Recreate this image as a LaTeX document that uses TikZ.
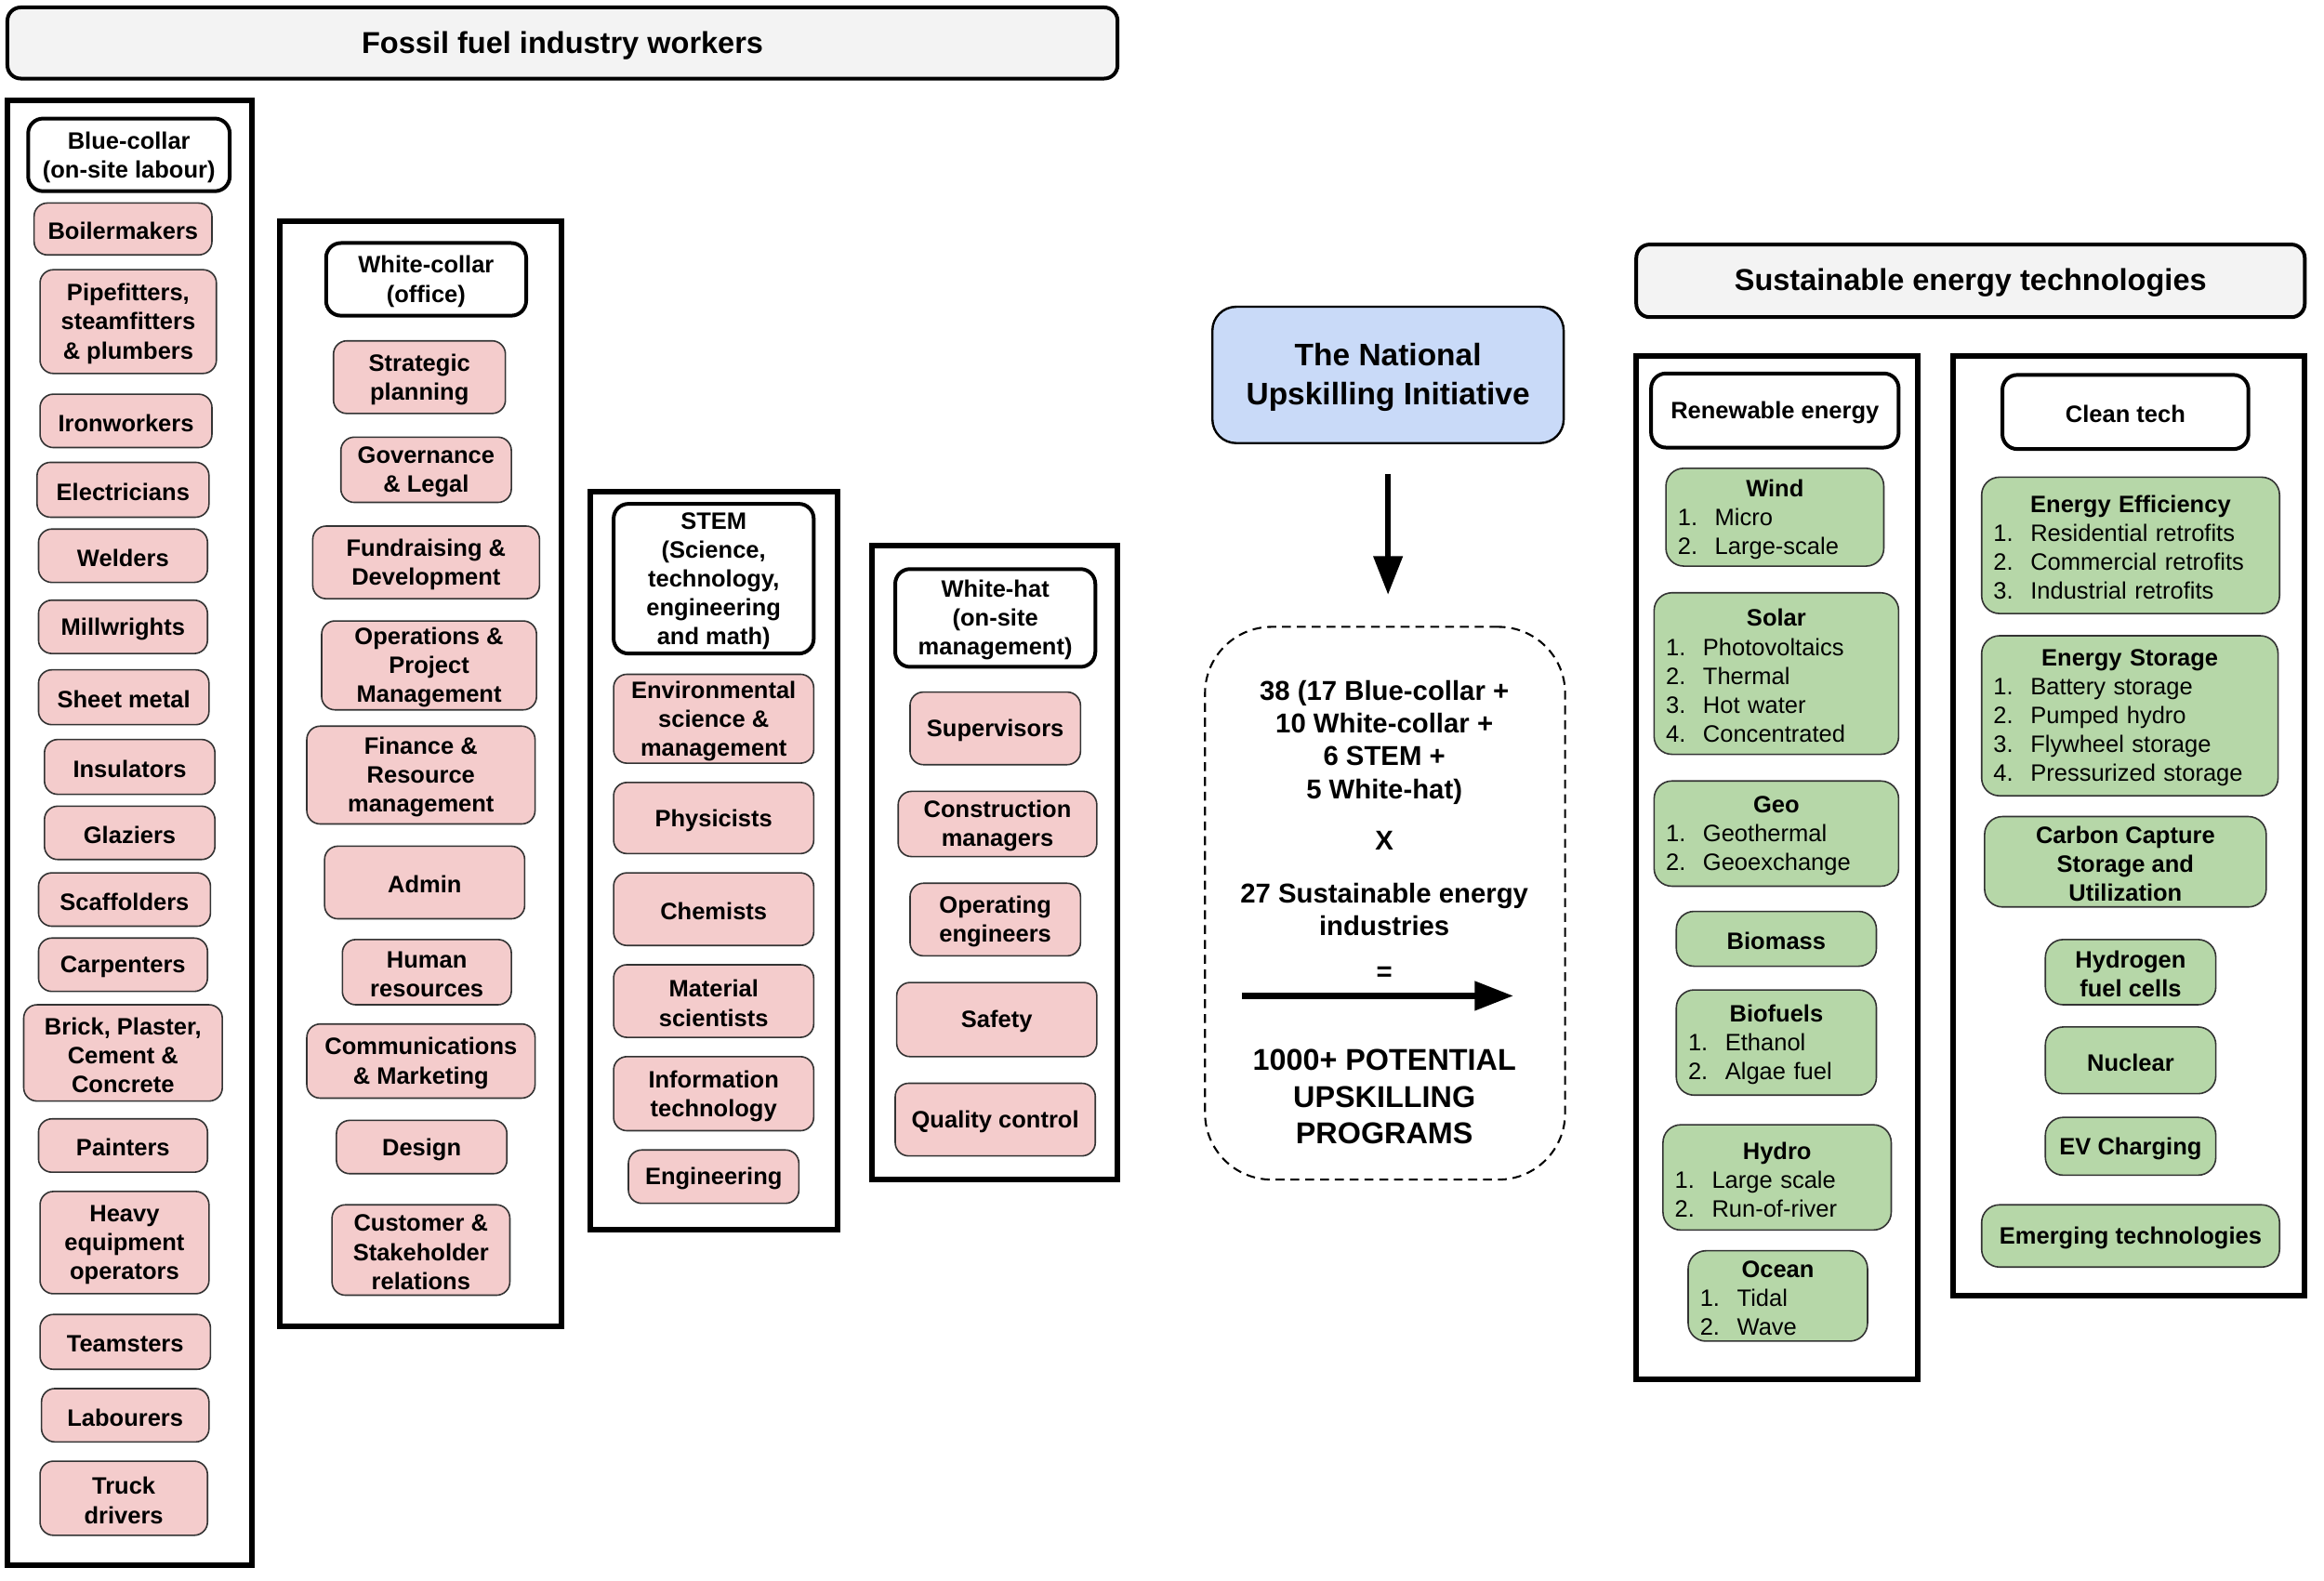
\documentclass[tikz,border=0pt]{standalone}
\usepackage{fontspec}
\setmainfont{Liberation Sans}
\usetikzlibrary{arrows.meta}
\definecolor{pinkf}{HTML}{F4CCCC}
\definecolor{greenf}{HTML}{B6D7A8}
\definecolor{bluef}{HTML}{C9DAF8}
\definecolor{grayf}{HTML}{F3F3F3}
\definecolor{edgec}{HTML}{333333}
\tikzset{
  base/.style={font=\fontsize{16}{19.5}\selectfont\bfseries, align=center, inner sep=0pt, text=black},
  pinkbox/.style={base, draw=edgec, line width=1pt, fill=pinkf, rounded corners=9pt},
  greenbox/.style={base, draw=edgec, line width=1pt, fill=greenf, rounded corners=12pt},
  greenlist/.style={greenbox, align=left, inner xsep=8pt},
  headbox/.style={base, draw=black, line width=2.5pt, fill=white, rounded corners=10pt},
  titlebox/.style={base, draw=black, line width=2.5pt, fill=grayf, rounded corners=9pt, font=\fontsize{20.4}{24}\selectfont\bfseries},
  initbox/.style={base, draw=black, line width=1.5pt, fill=bluef, rounded corners=16pt, font=\fontsize{21}{26}\selectfont\bfseries},
  dashbox/.style={draw=black, line width=1.3pt, dash pattern=on 6pt off 4pt, rounded corners=45pt},
  column/.style={draw=black, line width=3.75pt, inner sep=0pt},
  midtext/.style={base, font=\fontsize{18.4}{22}\selectfont\bfseries},
  bigtext/.style={base, font=\fontsize{20.3}{24.5}\selectfont\bfseries},
  bigarrow/.style={line width=4pt, -{Triangle[length=26pt,width=19pt]}},
  label only/.style={draw=none, fill=none, minimum width=0pt, minimum height=0pt},
}
% box: name, style, x1, y1, x2, y2, text
\newcommand\bx[7]{%
  \node[#2, minimum width={(#5-#3)*1pt}, minimum height={(#6-#4)*1pt}] (#1) at ({(#3+#5)/2},{(#4+#6)/2}) {};
  \node[#2, label only] (#1-t) at ([yshift=-1.5pt]#1.center) {#7};}
\newcommand\lbx[7]{\pgfmathsetmacro\mytw{#5-#3-16}%
  \node[#2, minimum width={(#5-#3)*1pt}, minimum height={(#6-#4)*1pt}] (#1) at ({(#3+#5)/2},{(#4+#6)/2}) {};
  \node[#2, label only, text width=\mytw pt] (#1-t) at ([yshift=-1.5pt]#1.center) {#7};}
\newcommand\ttl[1]{\makebox[\hsize][c]{#1}}
\newcommand\li[2]{{\mdseries\makebox[25pt][l]{#1}#2}}
\begin{document}
\begin{tikzpicture}[x=1pt,y=-1pt]
\useasboundingbox (0,0) rectangle (1568,1066.5);
% ---------- left header ----------
\bx{ffw}{titlebox}{5}{5}{754}{53}{Fossil fuel industry workers}
% ---------- columns ----------
\bx{bccol}{column}{5}{68}{170}{1056}{}
\bx{wccol}{column}{189}{149}{379}{895}{}
\bx{stcol}{column}{398}{332}{565}{830}{}
\bx{whcol}{column}{588}{368}{754}{796}{}
% ---------- blue-collar ----------
\bx{bc}{headbox}{19}{80}{155}{129}{Blue-collar\\(on-site labour)}
\bx{boil}{pinkbox}{23}{137}{143}{172}{Boilermakers}
\bx{pipe}{pinkbox}{27}{182}{146}{252}{Pipefitters,\\steamfitters\\\& plumbers}
\bx{iron}{pinkbox}{27}{266}{143}{302}{Ironworkers}
\bx{elec}{pinkbox}{25}{312}{141}{349}{Electricians}
\bx{weld}{pinkbox}{26}{357}{140}{393}{Welders}
\bx{mill}{pinkbox}{26}{405}{140}{441}{Millwrights}
\bx{sheet}{pinkbox}{26}{452}{141}{489}{Sheet metal}
\bx{insul}{pinkbox}{30}{499}{145}{536}{Insulators}
\bx{glaz}{pinkbox}{30}{544}{145}{580}{Glaziers}
\bx{scaf}{pinkbox}{26}{589}{142}{625}{Scaffolders}
\bx{carp}{pinkbox}{26}{633}{140}{669}{Carpenters}
\bx{brick}{pinkbox}{16}{678}{150}{743}{Brick, Plaster,\\Cement \&\\Concrete}
\bx{paint}{pinkbox}{26}{755}{140}{791}{Painters}
\bx{heavy}{pinkbox}{27}{804}{141}{873}{Heavy\\equipment\\operators}
\bx{team}{pinkbox}{27}{887}{142}{924}{Teamsters}
\bx{labo}{pinkbox}{28}{937}{141}{973}{Labourers}
\bx{truck}{pinkbox}{27}{986}{140}{1036}{Truck\\drivers}
% ---------- white-collar ----------
\bx{wc}{headbox}{220}{164}{355}{213}{White-collar\\(office)}
\bx{strat}{pinkbox}{225}{230}{341}{279}{Strategic\\planning}
\bx{gov}{pinkbox}{230}{295}{345}{339}{Governance\\\& Legal}
\bx{fund}{pinkbox}{211}{355}{364}{404}{Fundraising \&\\Development}
\bx{ops}{pinkbox}{217}{419}{362}{479}{Operations \&\\Project\\Management}
\bx{fin}{pinkbox}{207}{490}{361}{556}{Finance \&\\Resource\\management}
\bx{admin}{pinkbox}{219}{571}{354}{620}{Admin}
\bx{hr}{pinkbox}{231}{634}{345}{678}{Human\\resources}
\bx{comm}{pinkbox}{207}{691}{361}{741}{Communications\\\& Marketing}
\bx{design}{pinkbox}{227}{756}{342}{792}{Design}
\bx{cust}{pinkbox}{224}{813}{344}{874}{Customer \&\\Stakeholder\\relations}
% ---------- STEM ----------
\bx{stem}{headbox}{414}{340}{549}{441}{STEM\\(Science,\\technology,\\engineering\\and math)}
\bx{env}{pinkbox}{414}{455}{549}{515}{Environmental\\science \&\\management}
\bx{phys}{pinkbox}{414}{528}{549}{576}{Physicists}
\bx{chem}{pinkbox}{414}{589}{549}{638}{Chemists}
\bx{mat}{pinkbox}{414}{651}{549}{700}{Material\\scientists}
\bx{it}{pinkbox}{414}{713}{549}{763}{Information\\technology}
\bx{eng}{pinkbox}{424}{776}{539}{812}{Engineering}
% ---------- white-hat ----------
\bx{wh}{headbox}{604}{384}{739}{450}{White-hat\\(on-site\\management)}
\bx{sup}{pinkbox}{614}{467}{729}{516}{Supervisors}
\bx{cons}{pinkbox}{606}{534}{740}{578}{Construction\\managers}
\bx{openg}{pinkbox}{614}{596}{729}{645}{Operating\\engineers}
\bx{safe}{pinkbox}{605}{663}{740}{713}{Safety}
\bx{qc}{pinkbox}{604}{731}{739}{780}{Quality control}
% ---------- centre ----------
\bx{init}{initbox}{818}{207}{1055}{299}{The National\\Upskilling Initiative}
\bx{calc}{dashbox}{813}{423}{1056}{796}{}
\draw[bigarrow, shorten <=20pt, shorten >=21pt] (init.south) -- (init.south |- calc.north);
\node[midtext] (t1) at (934,501) {38 (17 Blue-collar +\\10 White-collar +\\6 STEM +\\5 White-hat)};
\node[midtext] (tx) at (934,567.5) {X};
\node[midtext] (t27) at (934,613.5) {27 Sustainable energy\\industries};
\node[midtext] (teq) at (934,657.5) {=};
\coordinate (ha) at (838,672);
\coordinate (hb) at (1021,672);
\draw[bigarrow] (ha) -- (hb);
\node[bigtext] (tbig) at (934,740) {1000+ POTENTIAL\\UPSKILLING\\PROGRAMS};
% ---------- right ----------
\bx{set}{titlebox}{1104}{165}{1555}{214}{Sustainable energy technologies}
\bx{rencol}{column}{1104}{240}{1294}{931}{}
\bx{ctcol}{column}{1318}{240}{1555}{874}{}
\bx{ren}{headbox}{1114}{252}{1281}{302}{Renewable energy}
\bx{ct}{headbox}{1351}{253}{1517}{303}{Clean tech}
\lbx{wind}{greenlist}{1124}{316}{1271}{382}{\ttl{Wind}\\\li{1.}{Micro}\\\li{2.}{Large-scale}}
\lbx{solar}{greenlist}{1116}{400}{1281}{509}{\ttl{Solar}\\\li{1.}{Photovoltaics}\\\li{2.}{Thermal}\\\li{3.}{Hot water}\\\li{4.}{Concentrated}}
\lbx{geo}{greenlist}{1116}{527}{1281}{598}{\ttl{Geo}\\\li{1.}{Geothermal}\\\li{2.}{Geoexchange}}
\bx{biom}{greenbox}{1131}{615}{1266}{652}{Biomass}
\lbx{biof}{greenlist}{1131}{668}{1266}{739}{\ttl{Biofuels}\\\li{1.}{Ethanol}\\\li{2.}{Algae fuel}}
\lbx{hydro}{greenlist}{1122}{759}{1276}{830}{\ttl{Hydro}\\\li{1.}{Large scale}\\\li{2.}{Run-of-river}}
\lbx{ocean}{greenlist}{1139}{844}{1260}{905}{\ttl{Ocean}\\\li{1.}{Tidal}\\\li{2.}{Wave}}
\lbx{ee}{greenlist}{1337}{322}{1538}{414}{\ttl{Energy Efficiency}\\\li{1.}{Residential retrofits}\\\li{2.}{Commercial retrofits}\\\li{3.}{Industrial retrofits}}
\lbx{es}{greenlist}{1337}{429}{1537}{537}{\ttl{Energy Storage}\\\li{1.}{Battery storage}\\\li{2.}{Pumped hydro}\\\li{3.}{Flywheel storage}\\\li{4.}{Pressurized storage}}
\bx{ccs}{greenbox}{1339}{551}{1529}{612}{Carbon Capture\\Storage and\\Utilization}
\bx{h2}{greenbox}{1380}{634}{1495}{678}{Hydrogen\\fuel cells}
\bx{nuc}{greenbox}{1380}{693}{1495}{738}{Nuclear}
\bx{ev}{greenbox}{1380}{754}{1495}{793}{EV Charging}
\bx{emer}{greenbox}{1337}{813}{1538}{855}{Emerging technologies}
\end{tikzpicture}
\end{document}
